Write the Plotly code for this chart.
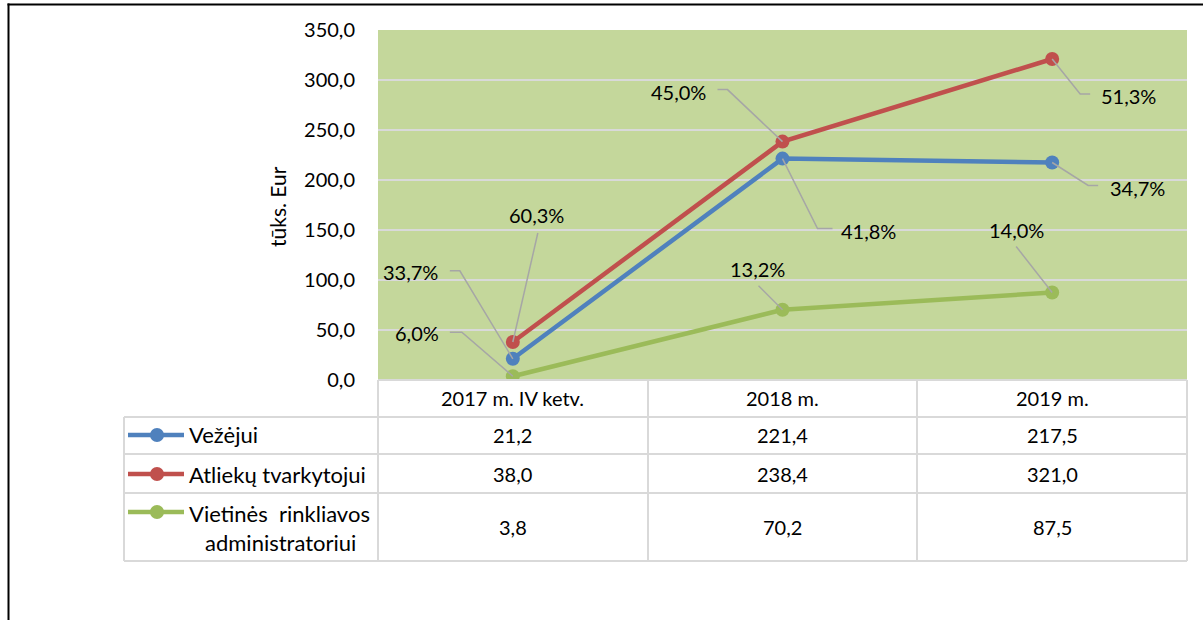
import plotly.graph_objects as go

categories = ["2017 m. IV ketv.", "2018 m.", "2019 m."]
series_names = ["Vežėjui", "Atliekų tvarkytojui", "Vietinės  rinkliavos"]
series_name_line2 = ["", "", "administratoriui"]
vezejui = [21.2, 221.4, 217.5]
tvarkytojui = [38.0, 238.4, 321.0]
administratoriui = [3.8, 70.2, 87.5]
y_ticks = [0, 50, 100, 150, 200, 250, 300, 350]
y_title = "tūks. Eur"

series = [vezejui, tvarkytojui, administratoriui]
colors = ["#4f81bd", "#c0504d", "#9bbb59"]

FONT = "Lato"
FS = 20

L, R, T, B = 378, 1187, 30, 380
W, H = R - L, B - T


def px(x):
    return (x - L) / W


def py(y):
    return (B - y) / H


totals = [sum(s[i] for s in series) for i in range(3)]


def fmt(v):
    return f"{v:.1f}".replace(".", ",")


fig = go.Figure()
for name, vals, c in zip(series_names, series, colors):
    fig.add_trace(go.Scatter(
        x=list(range(3)), y=vals, mode="lines+markers", name=name,
        line=dict(color=c, width=4.5), marker=dict(color=c, size=14),
        showlegend=False, hoverinfo="skip"))

label_spec = {
    (0, 0): ((-102, -87), [(-53, -88), (-63, -88)]),
    (1, 0): ((24, -127), [(25, -109)]),
    (2, 0): ((-96, -43), [(-51, -44), (-63, -44)]),
    (0, 1): ((86, 72), [(35, 70), (50, 70)]),
    (1, 1): ((-104, -50), [(-55, -52), (-65, -52)]),
    (2, 1): ((-25, -41), [(-24, -24)]),
    (0, 2): ((85, 25), [(36, 23), (46, 23)]),
    (1, 2): ((76, 37), [(28, 35), (38, 35)]),
    (2, 2): ((-36, -63), [(-36, -46)]),
}

TXT = dict(family=FONT, size=FS, color="#000")
TXT_ROW = dict(family=FONT, size=22, color="#000")

shapes = []
annotations = []
for (si, ci), (toff, path) in label_spec.items():
    v = series[si][ci]
    pct = v / totals[ci] * 100
    annotations.append(dict(
        x=ci, y=v, xref="x", yref="y", text=fmt(pct) + "%", showarrow=False,
        xanchor="center", yanchor="middle",
        xshift=toff[0], yshift=-toff[1], font=TXT))
    d = "M 0,0 " + " ".join(f"L {p[0]},{-p[1]}" for p in path)
    shapes.append(dict(
        type="path", xref="x", yref="y", xsizemode="pixel", ysizemode="pixel",
        xanchor=ci, yanchor=v, path=d, line=dict(color="#a6a6a6", width=1.5),
        layer="above"))

annotations.append(dict(x=px(277), y=py(207), xref="paper", yref="paper", text=y_title,
                        textangle=-90, showarrow=False, xanchor="center", yanchor="middle",
                        font=dict(family=FONT, size=21, color="#000")))

grid = "#d9d9d9"
col_x = [378, 648, 917, 1187]
rows_y = [380, 417, 454, 493, 561]
left_x = 124
for yy in rows_y:
    x0 = L if yy == 380 else left_x
    shapes.append(dict(type="line", xref="paper", yref="paper", x0=px(x0), x1=px(1187),
                       y0=py(yy), y1=py(yy), line=dict(color=grid, width=2)))
for xx in col_x:
    shapes.append(dict(type="line", xref="paper", yref="paper", x0=px(xx), x1=px(xx),
                       y0=py(380), y1=py(561), line=dict(color=grid, width=2)))
shapes.append(dict(type="line", xref="paper", yref="paper", x0=px(left_x), x1=px(left_x),
                   y0=py(417), y1=py(561), line=dict(color=grid, width=2)))

for ci, cat in enumerate(categories):
    annotations.append(dict(x=ci, y=py(398), xref="x", yref="paper", text=cat, showarrow=False,
                            xanchor="center", yanchor="middle", font=TXT))

row_centers = [435, 474, 527]
for si, (name, n2, vals, c) in enumerate(zip(series_names, series_name_line2, series, colors)):
    ry = row_centers[si]
    sym_y = ry if not n2 else 512
    shapes.append(dict(type="line", xref="paper", yref="paper", x0=px(128), x1=px(184),
                       y0=py(sym_y), y1=py(sym_y), line=dict(color=c, width=4.5)))
    shapes.append(dict(type="circle", xref="paper", yref="paper", x0=px(150), x1=px(164),
                       y0=py(sym_y - 7), y1=py(sym_y + 7), fillcolor=c, line=dict(width=0)))
    if n2:
        annotations.append(dict(x=px(187), y=py(513), xref="paper", yref="paper", text=name,
                                xanchor="left", yanchor="middle", showarrow=False, font=TXT_ROW))
        annotations.append(dict(x=px(280), y=py(542), xref="paper", yref="paper", text=n2,
                                xanchor="center", yanchor="middle", showarrow=False, font=TXT_ROW))
    else:
        annotations.append(dict(x=px(187), y=py(ry), xref="paper", yref="paper", text=name,
                                xanchor="left", yanchor="middle", showarrow=False, font=TXT_ROW))
    for ci, v in enumerate(vals):
        annotations.append(dict(x=ci, y=py(ry), xref="x", yref="paper", text=fmt(v), showarrow=False,
                                xanchor="center", yanchor="middle", font=TXT))

# page frame
shapes.append(dict(type="line", xref="paper", yref="paper", x0=px(7.5), x1=px(1203),
                   y0=py(4.5), y1=py(4.5), line=dict(color="#000", width=2), layer="above"))
shapes.append(dict(type="line", xref="paper", yref="paper", x0=px(8.5), x1=px(8.5),
                   y0=py(3.5), y1=py(620), line=dict(color="#000", width=2), layer="above"))

fig.update_layout(
    width=1203, height=620, autosize=False,
    margin=dict(l=L, r=1203 - R, t=T, b=620 - B),
    paper_bgcolor="white", plot_bgcolor="#c4d79b",
    shapes=shapes, annotations=annotations,
    xaxis=dict(range=[-0.5, 2.5], showticklabels=False, showgrid=False, zeroline=False,
               showline=False, fixedrange=True),
    yaxis=dict(range=[0, 350], tickvals=y_ticks, ticktext=[fmt(t) for t in y_ticks],
               showgrid=True, gridcolor="#d9d9d9", gridwidth=2, zeroline=False,
               showline=False, ticklabelstandoff=22, tickfont=TXT, fixedrange=True),
    font=dict(family=FONT),
)

fig.write_html(
    "out.html",
    config={"displayModeBar": False},
    post_script="document.body.style.margin='0';")
